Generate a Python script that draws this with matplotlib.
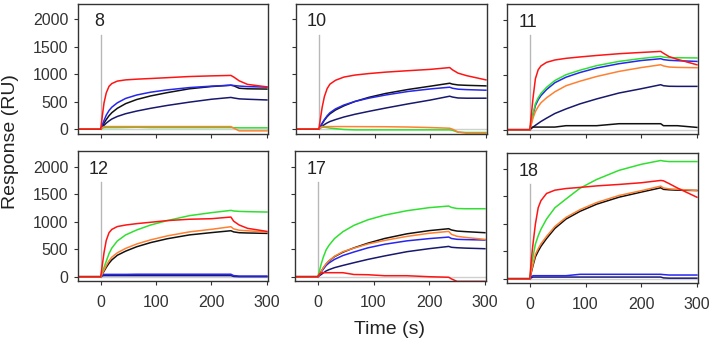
import matplotlib.pyplot as plt

plt.rcParams["font.family"] = ["Liberation Sans", "DejaVu Sans"]

# sample times (s) shared by every sensorgram
time_s = [-40, 0, 3, 6, 10, 15, 20, 30, 45, 65, 90, 120, 160, 200, 235, 240, 250, 265, 300]

# panel 8
red_8 = [0, 0, 250, 480, 660, 780, 830, 875, 897, 910, 922, 937, 958, 970, 978, 950, 880, 815, 770]
blue_8 = [0, 0, 80, 160, 255, 340, 400, 480, 560, 622, 673, 715, 757, 783, 800, 795, 785, 775, 765]
black_8 = [0, 0, 55, 110, 175, 245, 300, 380, 465, 540, 605, 665, 735, 776, 800, 790, 745, 735, 730]
navy_8 = [0, 0, 35, 70, 110, 150, 185, 232, 282, 330, 380, 432, 492, 545, 578, 568, 552, 545, 532]
orange_8 = [0, 0, 30, 45, 48, 48, 48, 48, 48, 48, 48, 48, 48, 48, 48, 20, -30, -30, -30]
green_8 = [0, 0, 20, 28, 30, 30, 30, 30, 32, 35, 30, 30, 30, 30, 30, 28, 25, 25, 25]

# panel 10
red_10 = [0, 0, 200, 400, 594, 740, 820, 890, 948, 985, 1012, 1038, 1064, 1088, 1121, 1080, 1020, 975, 897]
black_10 = [0, 0, 50, 100, 165, 230, 280, 350, 425, 505, 580, 650, 722, 782, 836, 820, 805, 798, 788]
blue_10 = [0, 0, 55, 110, 175, 245, 300, 370, 440, 505, 565, 622, 686, 732, 764, 745, 728, 720, 709]
navy_10 = [0, 0, 25, 50, 85, 115, 140, 175, 222, 272, 325, 385, 460, 530, 600, 585, 568, 564, 564]
orange_10 = [0, 0, 30, 45, 48, 48, 48, 48, 48, 47, 46, 45, 40, 30, 18, 0, -50, -70, -70]
green_10 = [0, 0, 25, 36, 36, 30, 20, 10, -5, -12, -12, -12, -12, -12, -12, -20, -55, -60, -60]

# panel 11
red_11 = [0, 0, 300, 600, 927, 1090, 1160, 1225, 1268, 1298, 1323, 1350, 1382, 1405, 1424, 1390, 1330, 1280, 1181]
green_11 = [0, 0, 150, 300, 473, 580, 660, 770, 895, 1000, 1082, 1165, 1242, 1295, 1333, 1320, 1310, 1309, 1305]
blue_11 = [0, 0, 140, 280, 440, 545, 620, 730, 855, 955, 1040, 1122, 1200, 1258, 1291, 1275, 1262, 1255, 1242]
orange_11 = [0, 0, 110, 220, 330, 420, 490, 580, 690, 800, 882, 968, 1060, 1130, 1181, 1160, 1140, 1133, 1127]
navy_11 = [0, 0, 25, 50, 80, 115, 150, 210, 295, 378, 470, 560, 667, 745, 818, 800, 790, 788, 788]
black_11 = [0, 0, 40, 48, 48, 48, 48, 48, 48, 73, 73, 73, 109, 109, 109, 73, 73, 73, 42]

# panel 12
red_12 = [0, 0, 220, 440, 660, 800, 860, 912, 940, 965, 990, 1020, 1045, 1055, 1085, 1010, 940, 880, 824]
green_12 = [0, 0, 80, 170, 280, 420, 520, 650, 760, 850, 940, 1020, 1110, 1165, 1206, 1195, 1188, 1183, 1176]
orange_12 = [0, 0, 60, 120, 200, 290, 355, 435, 515, 595, 670, 742, 815, 862, 909, 870, 845, 835, 812]
black_12 = [0, 0, 50, 100, 170, 245, 305, 390, 465, 545, 620, 690, 760, 802, 836, 815, 800, 795, 788]
blue_12 = [0, 0, 30, 42, 42, 42, 42, 42, 42, 45, 45, 45, 45, 45, 45, 20, 12, 12, 12]
navy_12 = [0, 0, 15, 20, 20, 20, 20, 20, 20, 20, 20, 20, 20, 20, 20, 5, 0, 0, 0]

# panel 17
green_17 = [0, 0, 110, 230, 360, 490, 570, 695, 818, 935, 1035, 1120, 1200, 1256, 1285, 1260, 1240, 1236, 1236]
black_17 = [0, 0, 45, 95, 160, 230, 285, 365, 445, 525, 610, 695, 780, 838, 873, 850, 830, 820, 800]
orange_17 = [0, 0, 45, 95, 165, 235, 290, 372, 455, 520, 595, 660, 733, 790, 824, 770, 735, 715, 679]
blue_17 = [0, 0, 40, 85, 140, 205, 250, 315, 385, 450, 525, 590, 652, 693, 721, 695, 680, 675, 667]
navy_17 = [0, 0, 20, 40, 70, 105, 128, 165, 205, 255, 315, 378, 455, 510, 551, 535, 527, 520, 509]
red_17 = [0, 0, 50, 73, 73, 73, 73, 73, 73, 40, 36, 18, 18, 0, -10, -40, -85, -85, -85]

# panel 18
green_18 = [0, 0, 250, 420, 628, 780, 900, 1085, 1290, 1450, 1645, 1805, 1970, 2080, 2150, 2140, 2130, 2130, 2130]
red_18 = [0, 0, 380, 660, 994, 1290, 1420, 1550, 1610, 1640, 1660, 1688, 1714, 1745, 1787, 1780, 1730, 1650, 1482]
orange_18 = [0, 0, 150, 280, 445, 545, 635, 770, 950, 1115, 1255, 1385, 1513, 1600, 1684, 1650, 1635, 1625, 1604]
black_18 = [0, 0, 130, 250, 397, 500, 590, 730, 915, 1085, 1225, 1355, 1482, 1575, 1653, 1625, 1617, 1610, 1604]
blue_18 = [0, 0, 40, 55, 55, 55, 55, 55, 55, 55, 80, 80, 80, 80, 80, 75, 67, 67, 67]
navy_18 = [0, 0, 20, 30, 30, 30, 30, 30, 30, 30, 30, 30, 30, 30, 30, 15, 10, 10, 10]

panel_names = ["8", "10", "11", "12", "17", "18"]
panels = [
    {"navy": navy_8, "black": black_8, "blue": blue_8, "green": green_8, "orange": orange_8, "red": red_8},
    {"navy": navy_10, "black": black_10, "blue": blue_10, "green": green_10, "orange": orange_10, "red": red_10},
    {"navy": navy_11, "black": black_11, "blue": blue_11, "green": green_11, "orange": orange_11, "red": red_11},
    {"navy": navy_12, "black": black_12, "blue": blue_12, "green": green_12, "orange": orange_12, "red": red_12},
    {"navy": navy_17, "black": black_17, "blue": blue_17, "green": green_17, "orange": orange_17, "red": red_17},
    {"navy": navy_18, "black": black_18, "blue": blue_18, "green": green_18, "orange": orange_18, "red": red_18},
]

line_colors = {
    "navy": "#18186e",
    "black": "#111111",
    "blue": "#2626ee",
    "green": "#30e030",
    "orange": "#ff8030",
    "red": "#ff1414",
}
draw_order = ["navy", "black", "blue", "green", "orange", "red"]

W, H = 709, 342
# panel frames in pixels: left, top, right, bottom
boxes = [
    (78, 3.5, 268, 133.5),
    (296, 3.5, 487, 133.5),
    (507, 4, 698, 134),
    (78, 151, 268, 281),
    (295, 151, 486, 281),
    (507, 153, 698, 283),
]

fig = plt.figure(figsize=(W / 100, H / 100), dpi=100)

for i, (name, series) in enumerate(zip(panel_names, panels)):
    x0, y0, x1, y1 = boxes[i]
    ax = fig.add_axes([x0 / W, 1 - y1 / H, (x1 - x0) / W, (y1 - y0) / H])

    # baseline and injection marker
    ax.plot([0, 300], [0, 0], color="#d0d0d0", lw=1, zorder=1)
    ax.plot([0, 0], [0, 1720], color="#b8b8b8", lw=1, zorder=1)

    for key in draw_order:
        ax.plot(time_s, series[key], color=line_colors[key], lw=1.1, zorder=2)

    ax.text(-3, 1955, name, ha="center", va="center", fontsize=13, color="#222222")

    ax.set_xlim(-41, 302)
    ax.set_ylim(-78, 2286)
    ax.set_xticks([0, 100, 200, 300])
    ax.set_yticks([0, 500, 1000, 1500, 2000])
    ax.tick_params(direction="out", length=3, width=0.8, colors="#333333", labelsize=11.5)
    ax.tick_params(axis="x", pad=7)
    ax.tick_params(axis="y", pad=4)
    if i % 3:
        ax.set_yticklabels([])
    if i < 3:
        ax.set_xticklabels([])
    for sp in ax.spines.values():
        sp.set_color("#333333")
        sp.set_linewidth(1)

fig.text(390 / W, 1 - 329 / H, "Time (s)", ha="center", va="center", fontsize=14, color="#222222")
fig.text(11 / W, 1 - 142 / H, "Response (RU)", ha="center", va="center", rotation=90,
         fontsize=14, color="#222222")

fig.savefig("out.png", dpi=100)
